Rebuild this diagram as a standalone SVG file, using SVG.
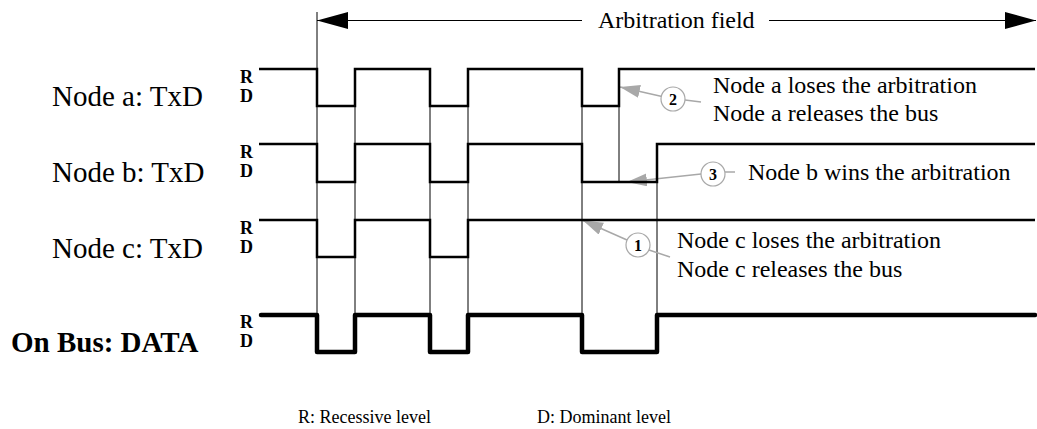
<svg xmlns="http://www.w3.org/2000/svg" width="1037" height="429" viewBox="0 0 1037 429">
<style>
.wave{fill:none;stroke:#000;stroke-width:2.5;stroke-linejoin:miter}
.bus{fill:none;stroke:#000;stroke-width:4.5;stroke-linejoin:round;stroke-linecap:round}
.guide{stroke:#000;stroke-width:1}
.dim{stroke:#000;stroke-width:1.2}
.call{stroke:#a8a8a8;stroke-width:1.5;fill:none}
.circ{fill:#fff;stroke:#a8a8a8;stroke-width:1.2}
.t{font-family:"Liberation Serif","Times New Roman",serif;fill:#000}
.lbl{font-size:29px}
.note{font-size:24px}
.rd{font-size:18px;font-weight:bold}
.num{font-size:16px;font-weight:bold;text-anchor:middle}
.small{font-size:18px}
</style>
<defs>
<marker id="bigArrow" markerUnits="userSpaceOnUse" markerWidth="32" markerHeight="18" refX="31" refY="8.5" orient="auto">
<path d="M0,0 L31,8.5 L0,17 Z" fill="#000"/>
</marker>
<marker id="grayArrow" markerUnits="userSpaceOnUse" markerWidth="21" markerHeight="14" refX="20" refY="6.5" orient="auto">
<path d="M0,0 L20,6.5 L0,13 Z" fill="#a8a8a8"/>
</marker>
</defs>

<g id="connectors">
<line class="guide" x1="317" y1="12" x2="317" y2="315"/>
<line class="guide" x1="355" y1="69" x2="355" y2="315"/>
<line class="guide" x1="430" y1="69" x2="430" y2="315"/>
<line class="guide" x1="468" y1="69" x2="468" y2="315"/>
<line class="guide" x1="582" y1="69" x2="582" y2="315"/>
<line class="guide" x1="619" y1="69" x2="619" y2="182"/>
<line class="guide" x1="657" y1="144" x2="657" y2="315"/>
<line class="dim" x1="582" y1="20.5" x2="317" y2="20.5" marker-end="url(#bigArrow)"/>
<line class="dim" x1="769" y1="20.5" x2="1036" y2="20.5" marker-end="url(#bigArrow)"/>
<line class="call" x1="662" y1="96.5" x2="620" y2="87" marker-end="url(#grayArrow)"/>
<line class="call" x1="685" y1="100" x2="701" y2="102"/>
<line class="call" x1="701" y1="174" x2="627" y2="182" marker-end="url(#grayArrow)"/>
<line class="call" x1="725" y1="172" x2="735" y2="172"/>
<line class="call" x1="627" y1="240" x2="583" y2="220.5" marker-end="url(#grayArrow)"/>
<line class="call" x1="649" y1="250" x2="670" y2="257"/>
</g>

<g id="title">
<text class="t note" x="598" y="28">Arbitration field</text>
</g>

<g id="node-a">
<text class="t lbl" x="52" y="106">Node a: TxD</text>
<text class="t rd" x="240" y="83">R</text>
<text class="t rd" x="240" y="102">D</text>
<polyline class="wave" points="259,69 317,69 317,106 355,106 355,69 430,69 430,106 468,106 468,69 582,69 582,106 619,106 619,69 1035,69"/>
</g>

<g id="node-b">
<text class="t lbl" x="52" y="182">Node b: TxD</text>
<text class="t rd" x="240" y="158">R</text>
<text class="t rd" x="240" y="177">D</text>
<polyline class="wave" points="259,144 317,144 317,182 355,182 355,144 430,144 430,182 468,182 468,144 582,144 582,182 657,182 657,144 1035,144"/>
</g>

<g id="node-c">
<text class="t lbl" x="52" y="258">Node c: TxD</text>
<text class="t rd" x="240" y="234">R</text>
<text class="t rd" x="240" y="253">D</text>
<polyline class="wave" points="259,220 317,220 317,257 355,257 355,220 430,220 430,257 468,257 468,220 1035,220"/>
</g>

<g id="bus">
<text class="t" x="11" y="352" font-size="29" font-weight="bold">On Bus: DATA</text>
<text class="t rd" x="240" y="328">R</text>
<text class="t rd" x="240" y="347">D</text>
<polyline class="bus" points="261,315 317,315 317,352 355,352 355,315 430,315 430,352 468,352 468,315 582,315 582,352 657,352 657,315 1035,315"/>
</g>

<g id="callout-2">
<circle class="circ" cx="673" cy="99" r="12"/>
<text class="t num" x="673" y="104.5">2</text>
<text class="t note" x="713" y="93">Node a loses the arbitration</text>
<text class="t note" x="713" y="121">Node a releases the bus</text>
</g>

<g id="callout-3">
<circle class="circ" cx="713" cy="174" r="12"/>
<text class="t num" x="713" y="179.5">3</text>
<text class="t note" x="748" y="180">Node b wins the arbitration</text>
</g>

<g id="callout-1">
<circle class="circ" cx="638" cy="245" r="12"/>
<text class="t num" x="638" y="250.5">1</text>
<text class="t note" x="677" y="248">Node c loses the arbitration</text>
<text class="t note" x="677" y="277">Node c releases the bus</text>
</g>

<g id="legend">
<text class="t small" x="298" y="423">R: Recessive level</text>
<text class="t small" x="537" y="423">D: Dominant level</text>
</g>
</svg>
